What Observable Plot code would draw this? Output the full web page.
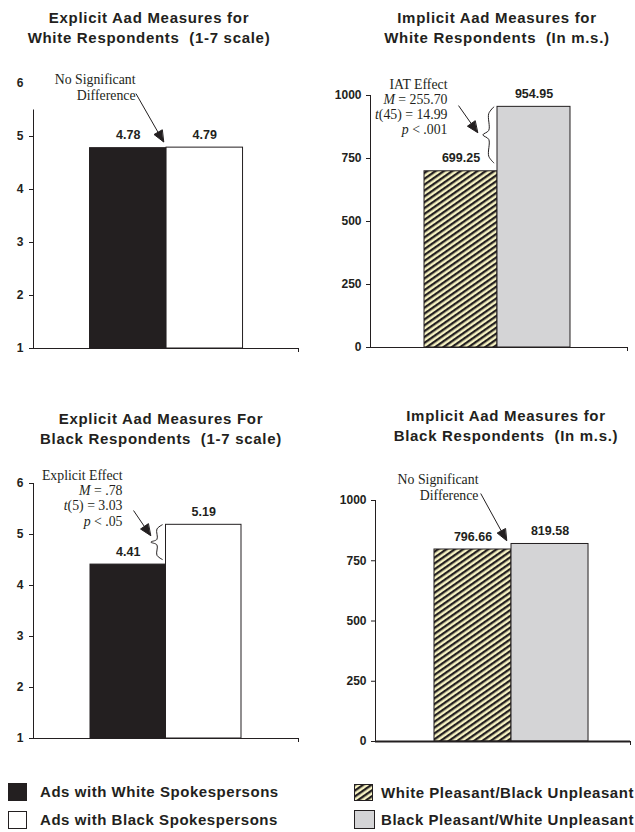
<!DOCTYPE html>
<html><head><meta charset="utf-8">
<script src="https://cdn.jsdelivr.net/npm/d3@7"></script>
<script src="https://cdn.jsdelivr.net/npm/@observablehq/plot@0.6"></script>
<style>
body{margin:0;background:#fff;}
#root{position:relative;width:635px;height:832px;overflow:hidden;font-family:"Liberation Sans",Arial,sans-serif;color:#231f20;background:#fff;}
.title{position:absolute;width:340px;text-align:center;font-weight:bold;font-size:15px;line-height:20px;letter-spacing:0.7px;white-space:pre;}
.panel{position:absolute;}
.legend-text{position:absolute;font-weight:bold;font-size:15px;line-height:18px;letter-spacing:0.55px;white-space:nowrap;}
.swatch{position:absolute;}
</style></head>
<body><div id="root"></div>
<script>
// ---- data ----
const explicitCategories = ["Ads with White Spokespersons", "Ads with Black Spokespersons"];
const implicitCategories = ["White Pleasant/Black Unpleasant", "Black Pleasant/White Unpleasant"];
const explicitWhiteValues = [4.78, 4.79];
const implicitWhiteValues = [699.25, 954.95];
const explicitBlackValues = [4.41, 5.19];
const implicitBlackValues = [796.66, 819.58];
const explicitTicks = [1, 2, 3, 4, 5, 6];
const implicitTicks = [0, 250, 500, 750, 1000];
const panelTitles = [
  "Explicit Aad Measures for\nWhite Respondents  (1-7 scale)",
  "Implicit Aad Measures for\nWhite Respondents  (In m.s.)",
  "Explicit Aad Measures For\nBlack Respondents  (1-7 scale)",
  "Implicit Aad Measures for\nBlack Respondents  (In m.s.)"
];
const noteTexts = [
  "No Significant\nDifference",
  "IAT Effect\nM = 255.70\nt(45) = 14.99\np < .001",
  "Explicit Effect\nM = .78\nt(5) = 3.03\np < .05",
  "No Significant\nDifference"
];

// ---- styles ----
const ink = "#231f20";
const explicitFills = [ink, "#ffffff"];
const implicitFills = ["url(#hatch)", "#d4d4d6"];
const serif = "Liberation Serif, Times New Roman, serif";
const sans = "Liberation Sans, Arial, sans-serif";

const root = d3.select("#root");

// hatch pattern
const defsSvg = root.append("svg").attr("width", 0).attr("height", 0).style("position", "absolute");
const pat = defsSvg.append("defs").append("pattern")
  .attr("id", "hatch").attr("patternUnits", "userSpaceOnUse")
  .attr("width", 4.8).attr("height", 4.8).attr("patternTransform", "rotate(55)");
pat.append("rect").attr("width", 4.8).attr("height", 4.8).attr("fill", "#f7f3c3");
pat.append("rect").attr("width", 2.3).attr("height", 4.8).attr("fill", ink);

const braceX = {end: 0.95, body: 0.88, tip: 0.8};
function bracePoints(hi, lo) {
  const bottom = lo + 0.13 * (hi - lo), s = hi - bottom, mid = (hi + bottom) / 2;
  return [[braceX.end, hi], [braceX.body, hi - 0.12 * s], [braceX.body, mid + 0.08 * s], [braceX.tip, mid],
          [braceX.body, mid - 0.08 * s], [braceX.body, bottom + 0.12 * s], [braceX.end, bottom]]
    .map(([x, y]) => ({x, y}));
}

const panels = [
  {title: panelTitles[0], categories: explicitCategories, values: explicitWhiteValues, ticks: explicitTicks, fills: explicitFills,
   left: 0, top: 0, width: 317, height: 360, margin: [83, 19, 12, 33], xDomain: [-0.739, 2.725],
   axisTop: 5.5, hideTopTick: true, tickPadding: 6,
   note: {x: 0.595, y: 6.21, text: noteTexts[0], lineHeight: 1.18},
   arrow: {x1: 0.6, y1: 5.81, x2: 0.96, y2: 4.9}, brace: false, baseWidth: 1, titleX: 149, titleY: 7.5},
  {title: panelTitles[1], categories: implicitCategories, values: implicitWhiteValues, ticks: implicitTicks, fills: implicitFills,
   left: 318, top: 0, width: 317, height: 360, margin: [95, 8, 13, 52], xDomain: [-0.740, 2.781],
   tickPadding: 5,
   note: {x: 0.315, y: 1067, text: noteTexts[1], lineHeight: 1.08},
   arrow: {x1: 0.466, y1: 960, x2: 0.726, y2: 853}, brace: true, baseWidth: 1, titleX: 497, titleY: 7.5},
  {title: panelTitles[2], categories: explicitCategories, values: explicitBlackValues, ticks: explicitTicks, fills: explicitFills,
   left: 0, top: 380, width: 317, height: 370, margin: [103, 19, 12, 33], xDomain: [-0.755, 2.755],
   tickPadding: 6,
   note: {x: 0.424, y: 6.27, text: noteTexts[2], lineHeight: 1.09},
   arrow: {x1: 0.57, y1: 5.47, x2: 0.795, y2: 4.98}, brace: true, baseWidth: 1, titleX: 161, titleY: 409},
  {title: panelTitles[3], categories: implicitCategories, values: implicitBlackValues, ticks: implicitTicks, fills: implicitFills,
   left: 318, top: 380, width: 317, height: 370, margin: [120, 5, 9, 57], xDomain: [-0.766, 2.545],
   tickPadding: 5,
   note: {x: 0.571, y: 1116, text: noteTexts[3], lineHeight: 1.18},
   arrow: {x1: 0.6, y1: 1029, x2: 0.935, y2: 834}, brace: false, baseWidth: 2, titleX: 506, titleY: 406}
];

function buildPlot(p, extraMarks) {
  const data = p.categories.map((category, i) => ({category, i, value: p.values[i]}));
  const base = p.ticks[0];
  const topTick = p.ticks[p.ticks.length - 1];
  const axisOpts = {tickSize: 4, tickPadding: p.tickPadding, fontWeight: "bold", fontSize: 12,
                    label: null, tickFormat: d => String(d), stroke: ink};
  const marks = [
    Plot.rectY(data, {x1: "i", x2: d => d.i + 1, y1: base, y2: "value", fill: "category", stroke: ink, strokeWidth: 1}),
    Plot.ruleY([base], {stroke: ink, strokeWidth: p.baseWidth}),
    Plot.ruleX([p.xDomain[0]], {y1: base, y2: p.axisTop ?? topTick, stroke: ink}),
    Plot.axisX({ticks: [p.xDomain[1]], tickSize: 4, tickFormat: () => "", label: null, stroke: ink}),
    Plot.text(data, {x: d => d.i + 0.5, y: "value", text: d => d.value.toFixed(2), dy: -13,
                     fontWeight: "bold", fontSize: 12.5, fontFamily: sans, fill: ink}),
    Plot.text([p.note], {x: "x", y: "y", text: "text", textAnchor: "end", lineAnchor: "top",
                         lineHeight: p.note.lineHeight, fontFamily: serif, fontSize: 13.8, fill: ink}),
    Plot.link([p.arrow], {x1: "x1", y1: "y1", x2: "x2", y2: "y2", stroke: ink, strokeWidth: 1})
  ];
  if (p.hideTopTick) {
    marks.push(Plot.axisY({...axisOpts, ticks: p.ticks.slice(0, -1)}));
    marks.push(Plot.axisY({...axisOpts, ticks: [topTick], tickSize: 0, tickPadding: p.tickPadding + 4}));
  } else {
    marks.push(Plot.axisY({...axisOpts, ticks: p.ticks}));
  }
  if (p.brace) {
    const hi = Math.max(...p.values), lo = Math.min(...p.values);
    marks.push(Plot.line(bracePoints(hi, lo), {x: "x", y: "y", curve: "catmull-rom", stroke: ink, strokeWidth: 1}));
  }
  return Plot.plot({
    width: p.width, height: p.height,
    marginTop: p.margin[0], marginRight: p.margin[1], marginBottom: p.margin[2], marginLeft: p.margin[3],
    x: {domain: p.xDomain},
    y: {domain: [base, topTick]},
    color: {domain: p.categories, range: p.fills},
    style: {background: "transparent", overflow: "visible", fontFamily: sans, fontSize: "12px", color: ink},
    marks: [...marks, ...extraMarks]
  });
}

function drawPanel(p) {
  // first pass: read the scales' pixel-per-unit so the arrowhead can be shaped in data space
  const probe = buildPlot(p, []);
  const sx = probe.scale("x"), sy = probe.scale("y");
  const kx = sx.apply(1) - sx.apply(0);   // px per x unit
  const ky = sy.apply(1) - sy.apply(0);   // px per y unit (negative)
  const a = p.arrow;
  const dxp = (a.x2 - a.x1) * kx, dyp = (a.y2 - a.y1) * ky;
  const len = Math.hypot(dxp, dyp), ux = dxp / len, uy = dyp / len;
  const L = 11, W = 4.6;
  const offs = [[0, 0], [-ux * L - uy * W, -uy * L + ux * W], [-ux * L + uy * W, -uy * L - ux * W]];
  const head = offs.map(([ox, oy]) => ({x: a.x2 + ox / kx, y: a.y2 + oy / ky}));
  const svg = buildPlot(p, [
    Plot.line(head, {x: "x", y: "y", curve: "linear-closed", fill: ink, stroke: ink, strokeWidth: 1})
  ]);
  svg.querySelectorAll("text, tspan").forEach(el => {
    if (el.children.length) return;
    const m = el.textContent.match(/^([Mtp])([ (].*)$/);
    if (!m) return;
    el.textContent = "";
    const it = document.createElementNS("http://www.w3.org/2000/svg", "tspan");
    it.setAttribute("font-style", "italic");
    it.textContent = m[1];
    el.appendChild(it);
    el.appendChild(document.createTextNode(m[2]));
  });
  const holder = root.append("div").attr("class", "panel").style("left", p.left + "px").style("top", p.top + "px");
  holder.node().appendChild(svg);
  root.append("div").attr("class", "title")
    .style("left", (p.titleX - 170) + "px").style("top", p.titleY + "px").text(p.title);
}

panels.forEach(drawPanel);

// ---- legend ----
const legendItems = [
  {label: explicitCategories[0], fill: explicitFills[0], sx: 8, sy: 783, sw: 19, sh: 18, tx: 40},
  {label: explicitCategories[1], fill: explicitFills[1], sx: 8, sy: 811, sw: 19, sh: 18, tx: 40},
  {label: implicitCategories[0], fill: implicitFills[0], sx: 354, sy: 784, sw: 19, sh: 17, tx: 381},
  {label: implicitCategories[1], fill: implicitFills[1], sx: 354, sy: 810, sw: 21, sh: 19, tx: 381}
];
legendItems.forEach(it => {
  const s = root.append("svg").attr("class", "swatch").attr("width", it.sw).attr("height", it.sh)
    .style("left", it.sx + "px").style("top", it.sy + "px");
  s.append("rect").attr("x", 0.5).attr("y", 0.5).attr("width", it.sw - 1).attr("height", it.sh - 1)
    .attr("fill", it.fill).attr("stroke", ink).attr("stroke-width", 1);
  root.append("div").attr("class", "legend-text")
    .style("left", it.tx + "px").style("top", (it.sy + it.sh / 2 - 9) + "px").text(it.label);
});
</script></body></html>
